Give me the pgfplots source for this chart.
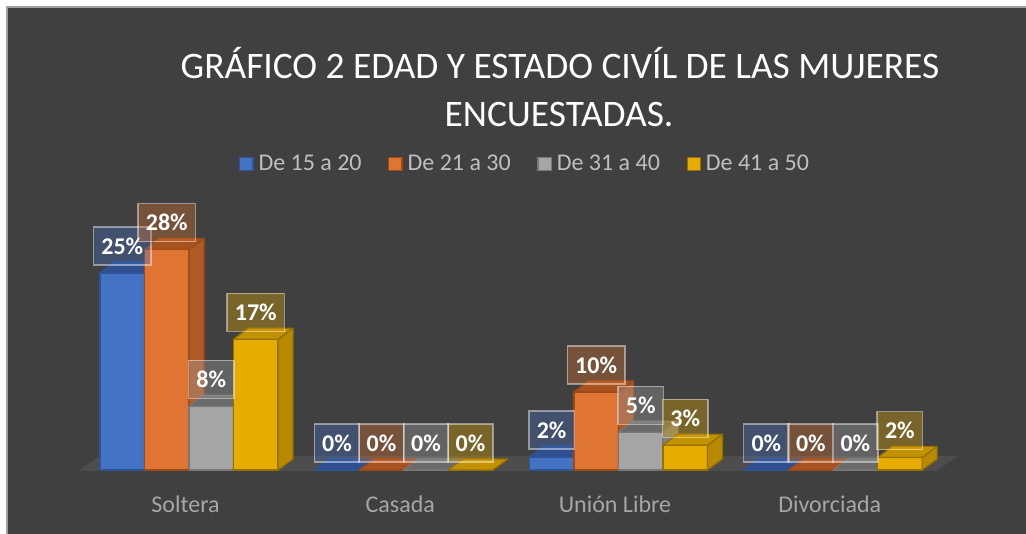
\documentclass[border=0pt]{standalone}
\usepackage{pgfplots}
\pgfplotsset{compat=1.18}
\usepackage{pgfplotstable}
\usepackage{fontspec}
\setmainfont{Carlito}
\definecolor{bg}{HTML}{404040}
\definecolor{floorc}{HTML}{4D4D4D}
\definecolor{cA}{HTML}{4472C4}\definecolor{sA}{HTML}{34589A}\definecolor{tA}{HTML}{2E5090}\definecolor{eA}{HTML}{2F5597}
\definecolor{cB}{HTML}{DF7433}\definecolor{sB}{HTML}{B05A26}\definecolor{tB}{HTML}{A85220}\definecolor{eB}{HTML}{9C4A17}
\definecolor{cC}{HTML}{A5A5A5}\definecolor{sC}{HTML}{808080}\definecolor{tC}{HTML}{6A6A6A}\definecolor{eC}{HTML}{777777}
\definecolor{cD}{HTML}{E6AC00}\definecolor{sD}{HTML}{B88A00}\definecolor{tD}{HTML}{C39200}\definecolor{eD}{HTML}{957000}
\definecolor{lab}{HTML}{A6A6A6}
\definecolor{leg}{HTML}{BFBFBF}
\pgfdeclareplotmark{nothing}{}
\pgfplotstableread{
cat a b c d
0 25.0 28.0 8.1 16.6
1 0 0 0 0
2 1.65 9.9 4.8 3.15
3 0 0 0 1.6
}\datatable
\pgfplotsset{
  bar3d/.style n args={4}{
    only marks, mark=nothing, scatter, point meta=y, forget plot,
    visualization depends on={rawy \as \rawy},
    scatter/@pre marker code/.code={%
      \pgfmathsetlengthmacro{\hh}{\rawy*3.94pt}%
      \filldraw[fill=#1, draw=#4, line width=0.6pt, line join=round] (-11.125pt,-\hh) rectangle (11.125pt,0pt);
      \filldraw[fill=#2, draw=#4, line width=0.6pt, line join=round] (11.125pt,-\hh) -- ++(7.5pt,5.5pt) -- (18.625pt,5.5pt) -- (11.125pt,0pt) -- cycle;
      \filldraw[fill=#3, draw=#4, line width=0.6pt, line join=round] (-11.125pt,0pt) -- (-3.625pt,5.5pt) -- (18.625pt,5.5pt) -- (11.125pt,0pt) -- cycle;
    },
    scatter/@post marker code/.code={},
  },
  lab3d/.style={
    only marks, mark=nothing, point meta=y, forget plot,
    nodes near coords={\pgfmathprintnumber[fixed,precision=0]{\pgfplotspointmeta}\%},
    every node near coord/.append style={anchor=south, yshift=3.5pt, fill=#1, fill opacity=0.35, draw=white, draw opacity=0.45, line width=0.75pt, text opacity=1, text=white, font=\bfseries\fontsize{12pt}{14pt}\selectfont, inner xsep=3.9pt, inner ysep=0pt, minimum height=19pt},
  },
}
\begin{document}
\begin{tikzpicture}
\useasboundingbox (0,0) rectangle (513pt,267pt);
\fill[white] (0,0) rectangle (513pt,267pt);
\filldraw[fill=bg, draw=gray!75, line width=0.8pt] (3.5pt,-3pt) rectangle (516pt,263.5pt);
\fill[floorc] (39pt,31.5pt) -- (468pt,31.5pt) -- (479pt,39pt) -- (50pt,39pt) -- cycle;
\begin{axis}[
  at={(40.825pt,32pt)}, anchor=south west,
  x=107.35pt, y=3.94pt,
  xmin=-0.5, xmax=3.5, ymin=0, ymax=30,
  clip=false,
  axis line style={draw=none},
  major tick length=0pt,
  ytick=\empty,
  xtick={0,1,2,3},
  xticklabels={Soltera,Casada,Unión Libre,Divorciada},
  xticklabel style={text=lab, font=\fontsize{12pt}{14pt}\selectfont, anchor=base, yshift=-21.25pt, xshift=-1.7pt},
  /pgf/number format/assume math mode=true,
  legend columns=4,
  legend style={at={(axis description cs:0.5175,1.294)}, anchor=center, draw=none, fill=none, text=leg,
    font=\fontsize{12pt}{14pt}\selectfont,
    /tikz/every odd column/.append style={column sep=0.5pt},
    /tikz/every even column/.append style={column sep=11.3pt}},
  legend image code/.code={\filldraw[#1] (0pt,-3.3pt) rectangle (6.6pt,3.3pt);},
]
\addlegendimage{fill=cA, draw=eA, line width=0.6pt}
\addlegendimage{fill=cB, draw=eB, line width=0.6pt}
\addlegendimage{fill=cC, draw=eC, line width=0.6pt}
\addlegendimage{fill=cD, draw=eD, line width=0.6pt}
\addplot[bar3d={cA}{sA}{tA}{eA}] table[x expr=\thisrow{cat}-0.3109, y=a] {\datatable};
\addplot[bar3d={cB}{sB}{tB}{eB}] table[x expr=\thisrow{cat}-0.10364, y=b] {\datatable};
\addplot[bar3d={cC}{sC}{tC}{eC}] table[x expr=\thisrow{cat}+0.10364, y=c] {\datatable};
\addplot[bar3d={cD}{sD}{tD}{eD}] table[x expr=\thisrow{cat}+0.3109, y=d] {\datatable};
\addplot[lab3d=cA] table[x expr=\thisrow{cat}-0.3109, y=a] {\datatable};
\addplot[lab3d=cB] table[x expr=\thisrow{cat}-0.10364, y=b] {\datatable};
\addplot[lab3d=cC] table[x expr=\thisrow{cat}+0.10364, y=c] {\datatable};
\addplot[lab3d=cD] table[x expr=\thisrow{cat}+0.3109, y=d] {\datatable};
\legend{De 15 a 20, De 21 a 30, De 31 a 40, De 41 a 50}
\end{axis}
\node[anchor=base, text=white, font=\fontsize{18.7pt}{22pt}\selectfont] at (280pt,227.6pt) {GRÁFICO 2 EDAD Y ESTADO CIVÍL DE LAS MUJERES};
\node[anchor=base, text=white, font=\fontsize{18.7pt}{22pt}\selectfont] at (279.5pt,203.6pt) {ENCUESTADAS.};
\end{tikzpicture}
\end{document}
